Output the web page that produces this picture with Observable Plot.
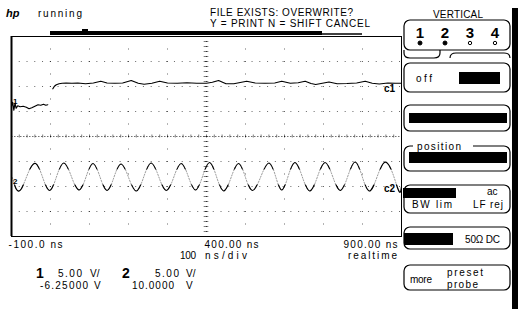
<!DOCTYPE html>
<html><head><meta charset="utf-8">
<script src="https://cdn.jsdelivr.net/npm/d3@7"></script>
<script src="https://cdn.jsdelivr.net/npm/@observablehq/plot@0.6"></script>
<style>
html,body{margin:0;padding:0;background:#fff;}
svg text{font-family:"Liberation Sans",Arial,sans-serif;}
</style></head><body><div id="chart"></div>
<script>
const gridTimes = [0, 100, 200, 300, 500, 600, 700, 800];   // ns
const gridDivs = [-3, -2, -1, 1, 2, 3];                        // divisions
const timeLabels = ["-100.0 ns", "400.00 ns", "900.00 ns"];
const timeLabelAt = [-100, 400, 900];

const ch1Scale = 5, ch1Offset = -6.25;   // V/div, V at centre
const ch2Scale = 5, ch2Offset = 10.0;

const ch1PreTime = [-100,-97,-94,-91,-88,-84,-78,-70,-62,-55,-48,-40,-32,-25,-18,-12,-7];
const ch1PreVolts = [-0.2,0.6,-1.0,0.4,-0.6,-0.1,-0.3,-0.2,-0.4,-0.7,-0.5,-0.2,0.1,0,0.2,0.0,0.1];
const ch1Time = [6,10,15,22,30,40,55,70,90,110,129,145,165,185,207,225,240,260,280,300,325,350,375,400,415,431,450,470,503,525,550,575,593,615,635,653,668,680,697,714,735,760,785,807,825,843,865,885,900];
const ch1Volts = [3.3,3.8,4.1,4.3,4.4,4.45,4.4,4.45,4.3,4.45,4.8,4.45,4.4,4.45,4.95,4.4,4.2,4.4,4.8,4.45,4.4,4.5,4.4,4.4,4.6,4.95,4.3,4.3,4.8,4.45,4.4,4.45,4.8,4.4,4.5,4.8,4.35,4.15,4.4,4.65,4.3,4.35,4.45,4.8,4.4,4.25,4.45,4.4,4.4];

const ch2Time = [-98,-75,-38,-2,34,73,109,145,181,220,258,297,335,372,408,444,482,518,560,593,627,665,704,743,781,817,856,890,900];
const ch2Volts = [1.8,-0.5,4.6,-0.8,4.7,-0.7,4.6,-0.8,4.5,-0.9,4.7,-0.8,4.6,-0.7,4.8,-0.9,4.6,-0.8,4.7,-0.7,4.8,-0.9,4.8,-0.8,4.9,-0.9,4.8,-0.3,0.0];

// ---- build tables ----
const ch1 = [
  ...ch1PreTime.map((t,i)=>({t, d:(ch1PreVolts[i]-ch1Offset)/ch1Scale, seg:0})),
  ...ch1Time.map((t,i)=>({t, d:(ch1Volts[i]-ch1Offset)/ch1Scale, seg:1}))
];
const ch2 = ch2Time.map((t,i)=>({t, d:(ch2Volts[i]-ch2Offset)/ch2Scale}));
const minorT = d3.range(-100, 901, 20);
const minorD = d3.range(-4, 4.01, 0.2);

const svg = Plot.plot({
  width: 525, height: 309,
  marginLeft: 11, marginRight: 124, marginTop: 36, marginBottom: 73,
  x: {domain: [-100, 900], axis: null},
  y: {domain: [-4, 4], axis: null},
  style: {background: "white", overflow: "visible"},
  marks: [
    Plot.ruleX(gridTimes, {stroke: "#000", strokeOpacity: 0.6, strokeDasharray: "1,11.5"}),
    Plot.ruleY(gridDivs, {stroke: "#000", strokeOpacity: 0.6, strokeDasharray: "1,6.76"}),
    Plot.ruleX([400], {stroke: "#000", strokeOpacity: 0.6, strokeDasharray: "1,4"}),
    Plot.ruleY([0], {stroke: "#000", strokeOpacity: 0.55, strokeDasharray: "1.5,1.5"}),
    Plot.ruleX(minorT, {x: d=>d, y1: -0.06, y2: 0.06, stroke: "#000", strokeOpacity: 0.5}),
    Plot.ruleY(minorD, {y: d=>d, x1: 394, x2: 406, stroke: "#000", strokeOpacity: 0.5}),
    Plot.line(ch2, {x: "t", y: "d", curve: "natural", stroke: "#000", strokeOpacity: 0.45, strokeWidth: 0.9, strokeDasharray: "1.2,1.6"}),
    Plot.line(ch2, {x: "t", y: "d", curve: "natural", stroke: "#000", strokeWidth: 1.2}),
    Plot.line(ch1, {x: "t", y: "d", z: "seg", curve: "linear", stroke: "#000", strokeWidth: 1.2}),
    Plot.frame({stroke: "#000", strokeWidth: 1}),
    Plot.ruleX([-100], {stroke: "#000", strokeWidth: 2}),
    Plot.text([timeLabels[0]], {x: timeLabelAt[0], y: -4, dx: -3, dy: 8, textAnchor: "start", lineAnchor: "middle", fontSize: 10, fill: "#000"}),
    Plot.text([timeLabels[1]], {x: timeLabelAt[1], y: -4, dx: -2, dy: 8, textAnchor: "start", lineAnchor: "middle", fontSize: 10, fill: "#000"}),
    Plot.text([timeLabels[2]], {x: timeLabelAt[2], y: -4, dx: -4, dy: 8, textAnchor: "end", lineAnchor: "middle", fontSize: 10, fill: "#000"})
  ]
});
document.getElementById("chart").appendChild(svg);

const s = d3.select(svg);
// widen the time labels like the scope's screen font
s.selectAll('g[aria-label="text"] text').attr("textLength", 54).attr("lengthAdjust", "spacing");
// dark trace only where the signal is slow (near its extremes); slopes stay faint
const X = svg.scale("x"), Y = svg.scale("y");
const defs = s.append("defs");
const cp = defs.append("clipPath").attr("id", "ch2slow");
[[3.4, 6.5], [-2.5, 0.4]].forEach(([lo, hi]) => {
  const y1 = Y.apply((hi - ch2Offset) / ch2Scale), y2 = Y.apply((lo - ch2Offset) / ch2Scale);
  cp.append("rect").attr("x", X.apply(-100)).attr("y", y1).attr("width", X.apply(900) - X.apply(-100)).attr("height", y2 - y1);
});
const lines = s.selectAll('g[aria-label="line"]').nodes();
d3.select(lines[1]).attr("clip-path", "url(#ch2slow)");

// ---- screen chrome (header, markers, softkey panel) ----
function txt(x, y, str, o = {}) {
  const t = s.append("text").attr("x", x).attr("y", y).text(str)
    .attr("font-size", o.size || 10).attr("fill", "#000")
    .attr("font-weight", o.weight || "normal")
    .attr("font-style", o.style || "normal")
    .attr("text-anchor", o.anchor || "start");
  if (o.len) t.attr("textLength", o.len).attr("lengthAdjust", "spacing");
  return t;
}
function box(x, y, w, h) {
  s.append("rect").attr("x", x).attr("y", y).attr("width", w).attr("height", h)
    .attr("rx", 6).attr("fill", "none").attr("stroke", "#000").attr("stroke-width", 1.2);
}
function blk(x, y, w, h) {
  s.append("rect").attr("x", x).attr("y", y).attr("width", w).attr("height", h).attr("fill", "#000");
}
// header
txt(6, 17, "hp", {style: "italic", weight: "bold", size: 11});
txt(38, 17, "running", {len: 44});
txt(210, 16, "FILE EXISTS: OVERWRITE?", {len: 143});
txt(210, 27, "Y = PRINT N = SHIFT CANCEL", {len: 160});
blk(50, 31, 272, 4); blk(82, 29, 6, 6);
s.append("line").attr("x1", 322).attr("x2", 362).attr("y1", 34).attr("y2", 34).attr("stroke", "#000").attr("stroke-width", 1.5);
// channel markers and labels
txt(13, 104, "1", {size: 8, weight: "bold"});
txt(13, 184, "2", {size: 8, weight: "bold"});
txt(384, 92, "c1", {weight: "bold"});
txt(384, 192, "c2", {weight: "bold"});
// bottom text
txt(180, 259, "100", {len: 16});
txt(205, 259, "ns/div", {len: 42});
txt(397, 259, "realtime", {anchor: "end", len: 49});
txt(36, 278, "1", {size: 14, weight: "bold"});
txt(58, 277, "5.00", {len: 24});
txt(90, 277, "V/");
txt(122, 278, "2", {size: 14, weight: "bold"});
txt(155, 277, "5.00", {len: 24});
txt(186, 277, "V/");
txt(40, 289, "-6.25000", {len: 48});
txt(94, 289, "V");
txt(132, 289, "10.0000", {len: 42});
txt(186, 289, "V");
// right panel
blk(512, 8, 6, 301);
txt(458, 18, "VERTICAL", {anchor: "middle", len: 50});
box(404, 20, 106, 30);
["1","2","3","4"].forEach((c,i)=>txt(420 + i*25, 38, c, {size: 15, weight: "bold", anchor: "middle"}));
[0,1,2,3].forEach(i=>s.append("circle").attr("cx", 420 + i*25).attr("cy", 43).attr("r", i<2?2:1.7)
  .attr("fill", i<2?"#000":"#fff").attr("stroke", "#000").attr("stroke-width", 1));
s.append("path").attr("d", "M404,50 L404,53 Q404,58 410,58 L434,58 Q440,58 440,53 L440,50").attr("fill","none").attr("stroke","#000").attr("stroke-width",1.2);
s.append("path").attr("d", "M450,58 Q450,53 456,53 L504,53 Q510,53 510,58").attr("fill","none").attr("stroke","#000").attr("stroke-width",1.2);
box(404, 63, 106, 29); txt(416, 82, "off", {len: 16}); blk(459, 72, 41, 12);
box(404, 105, 106, 26); blk(409, 113, 98, 10);
box(404, 146, 106, 25); blk(409, 152, 98, 11);
s.append("rect").attr("x", 413).attr("y", 140).attr("width", 60).attr("height", 12).attr("fill", "#fff");
txt(417, 150, "position", {len: 44});
box(404, 185, 106, 28); blk(403, 188, 53, 10);
txt(487, 195, "ac"); txt(412, 208, "BW lim", {len: 40}); txt(473, 208, "LF rej", {len: 30});
box(404, 227, 106, 22); blk(404, 233, 49, 12); txt(465, 243, "50Ω DC", {len: 35});
box(404, 265, 106, 25); txt(410, 283, "more", {len: 22}); txt(447, 276, "preset", {len: 36}); txt(447, 288, "probe", {len: 31});
</script></body></html>
